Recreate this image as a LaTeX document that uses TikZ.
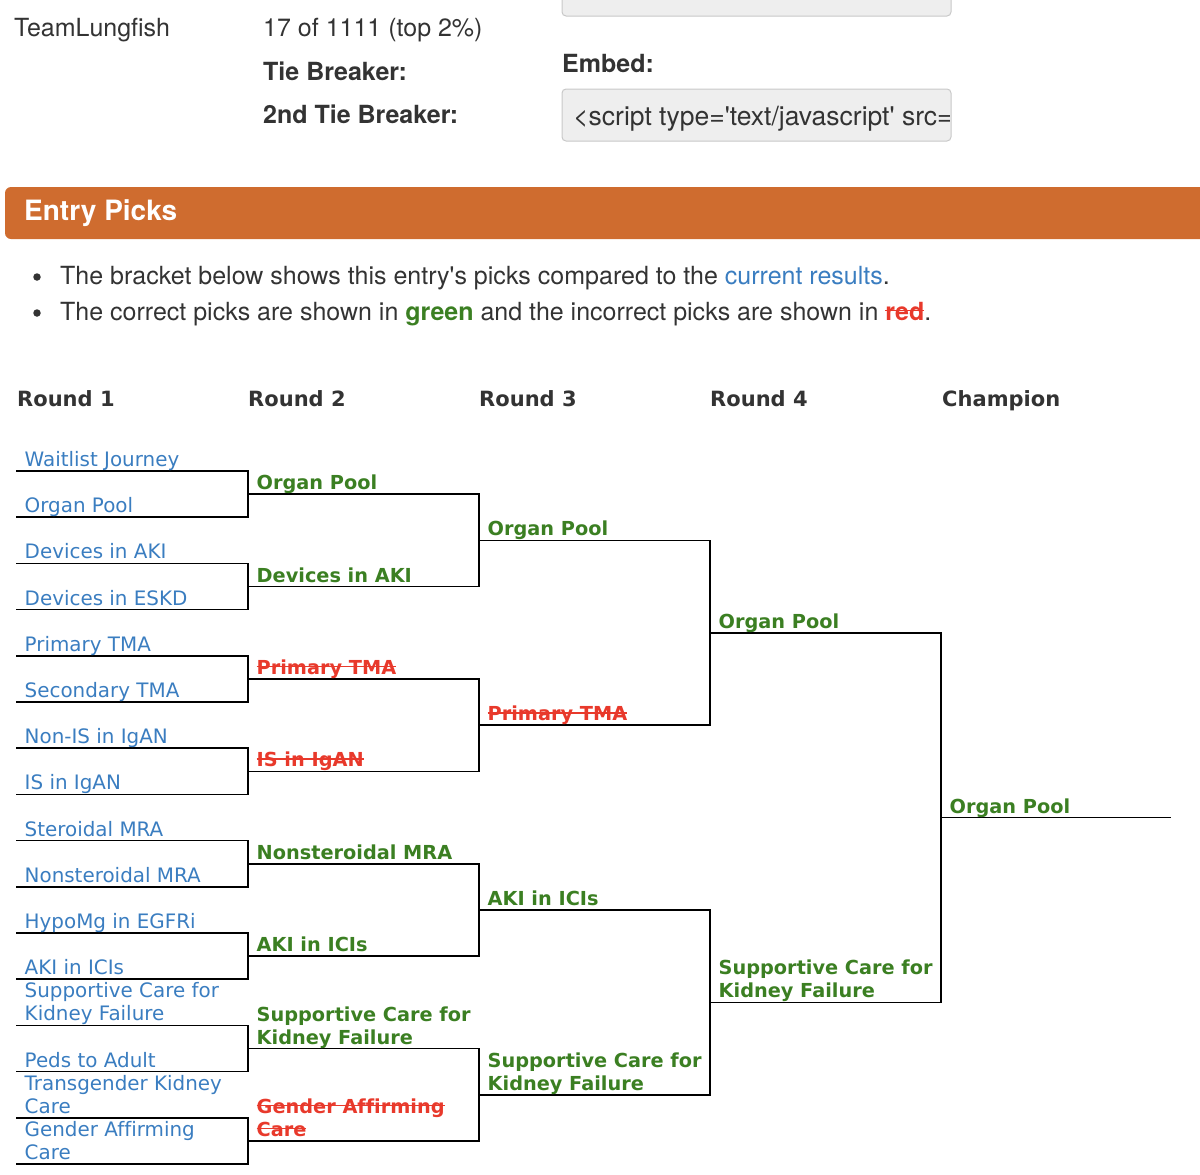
\documentclass[tikz,border=0pt]{standalone}
\usepackage{fontspec}
\usetikzlibrary{positioning,calc}

\newfontfamily\heros[Ligatures={TeXOff,CommonOff}]{TeX Gyre Heros}
\newfontfamily\verd[Ligatures={TeXOff,CommonOff}]{DejaVu Sans}

\definecolor{txtgray}{HTML}{333333}
\definecolor{linkblue}{HTML}{3A7DC0}
\definecolor{rightgreen}{HTML}{3B7F22}
\definecolor{wrongred}{HTML}{E8392B}
\definecolor{barorange}{HTML}{CF6C2F}
\definecolor{boxgray}{HTML}{EEEEEE}
\definecolor{boxline}{HTML}{C8C8C8}

% struck-out text (wrong picks)
\newlength{\strklen}
\newcommand{\strk}[1]{\settowidth{\strklen}{#1}\rlap{#1}\rule[0.36em]{\strklen}{1.5pt}}
\newcommand{\twoline}[2]{\begin{tabular}[b]{@{}l@{}}#1\\#2\end{tabular}}

\tikzset{
  hdr/.style={anchor=base west, inner sep=0pt, text=txtgray, font=\heros\fontsize{25}{29}\selectfont},
  hdrb/.style={hdr, font=\heros\bfseries\fontsize{25}{29}\selectfont},
  barhead/.style={anchor=base west, inner sep=0pt, text=white, font=\heros\bfseries\fontsize{28}{32}\selectfont},
  codebox/.style={fill=boxgray, draw=boxline, line width=1pt, rounded corners=4pt},
  dotmark/.style={circle, fill=txtgray, inner sep=0pt, minimum size=7.5pt},
  rnd/.style={anchor=base west, inner sep=0pt, text=txtgray, font=\verd\bfseries\fontsize{21}{25}\selectfont},
  team/.style={anchor=base west, inner sep=0pt, xshift=8.5pt, yshift=4.5pt, text=linkblue, font=\verd\fontsize{19.9}{23}\selectfont},
  pick/.style={team, text=rightgreen, font=\verd\bfseries\fontsize{19.3}{23}\selectfont},
  miss/.style={pick, text=wrongred},
  wire/.style={line width=1.6pt, black}
}

\begin{document}
\begin{tikzpicture}[x=1pt, y=-1pt]
  \useasboundingbox (0,0) rectangle (1200,1175);

  % entry details
  \node[hdr] (team) at (14,36) {TeamLungfish};
  \node[hdr] (rank) at (263,36) {17 of 1111 (top 2\%)};
  \node[hdrb] (tie1) at (263,80) {Tie Breaker:};
  \node[hdrb] (tie2) at (263,123) {2nd Tie Breaker:};
  \node[hdrb] (embed) at (562,72) {Embed:};
  \filldraw[codebox] (562,-20) rectangle (951,16);
  \filldraw[codebox] (562,89) rectangle (951,141);
  \begin{scope}
    \clip (563,90) rectangle (949,140);
    \node[hdr, font=\heros\fontsize{26.5}{30}\selectfont] (code) at (573,125) {<script type='text/javascript' src=};
  \end{scope}

  % section bar
  \fill[barorange, rounded corners=6pt] (5,187) rectangle (1215,239);
  \node[barhead] (picks) at (24,220) {Entry Picks};

  \node[dotmark] (dot1) at (37,277) {};
  \node[hdr] (note1) at (60,284) {The bracket below shows this entry's picks compared to the \textcolor{linkblue}{current results}.};
  \node[dotmark] (dot2) at (37,313) {};
  \node[hdr] (note2) at (60,320) {The correct picks are shown in \textcolor{rightgreen}{\bfseries green} and the incorrect picks are shown in \textcolor{wrongred}{\bfseries\strk{red}}.};

  % round headers
  \node[rnd] (h1) at (17,406) {Round 1};
  \node[rnd] (h2) at (248,406) {Round 2};
  \node[rnd] (h3) at (479,406) {Round 3};
  \node[rnd] (h4) at (710,406) {Round 4};
  \node[rnd] (h5) at (942,406) {Champion};

  % slots of each round
  \foreach \r/\xa/\xb/\n in {1/16/248/16, 2/248/479/8, 3/479/710/4, 4/710/941/2, 5/941/1171/1} {
    \foreach \i in {1,...,\n} {
      \pgfmathsetmacro{\yy}{471+(2^(\r-1)*\i-(2^(\r-1)+1)/2)*46.2}
      \coordinate (s\r-\i) at (\xa,\yy);
      \coordinate (e\r-\i) at (\xb,\yy);
    }
  }
  \foreach \r/\n in {1/8, 2/4, 3/2, 4/1} {
    \foreach \j in {1,...,\n} {
      \pgfmathtruncatemacro{\ja}{2*\j-1}
      \pgfmathtruncatemacro{\jb}{2*\j}
      \draw[wire] (s\r-\ja) -- (e\r-\ja) -- (e\r-\jb) -- (s\r-\jb);
    }
  }
  \draw[wire] (s5-1) -- (e5-1);

  % round 1
  \foreach \i/\t in {1/Waitlist Journey, 2/Organ Pool, 3/Devices in AKI, 4/Devices in ESKD,
                     5/Primary TMA, 6/Secondary TMA, 7/Non-IS in IgAN, 8/IS in IgAN,
                     9/Steroidal MRA, 10/Nonsteroidal MRA, 11/HypoMg in EGFRi, 12/AKI in ICIs,
                     14/Peds to Adult}
    \node[team] (t1-\i) at (s1-\i) {\t};
  \node[team] (t1-13) at (s1-13) {\twoline{Supportive Care for}{Kidney Failure}};
  \node[team] (t1-15) at (s1-15) {\twoline{Transgender Kidney}{Care}};
  \node[team] (t1-16) at (s1-16) {\twoline{Gender Affirming}{Care}};

  % round 2
  \node[pick] (t2-1) at (s2-1) {Organ Pool};
  \node[pick] (t2-2) at (s2-2) {Devices in AKI};
  \node[miss] (t2-3) at (s2-3) {\strk{Primary TMA}};
  \node[miss] (t2-4) at (s2-4) {\strk{IS in IgAN}};
  \node[pick] (t2-5) at (s2-5) {Nonsteroidal MRA};
  \node[pick] (t2-6) at (s2-6) {AKI in ICIs};
  \node[pick] (t2-7) at (s2-7) {\twoline{Supportive Care for}{Kidney Failure}};
  \node[miss] (t2-8) at (s2-8) {\twoline{\strk{Gender Affirming}}{\strk{Care}}};

  % round 3
  \node[pick] (t3-1) at (s3-1) {Organ Pool};
  \node[miss] (t3-2) at (s3-2) {\strk{Primary TMA}};
  \node[pick] (t3-3) at (s3-3) {AKI in ICIs};
  \node[pick] (t3-4) at (s3-4) {\twoline{Supportive Care for}{Kidney Failure}};

  % round 4 and champion
  \node[pick] (t4-1) at (s4-1) {Organ Pool};
  \node[pick] (t4-2) at (s4-2) {\twoline{Supportive Care for}{Kidney Failure}};
  \node[pick] (t5-1) at (s5-1) {Organ Pool};
\end{tikzpicture}
\end{document}
